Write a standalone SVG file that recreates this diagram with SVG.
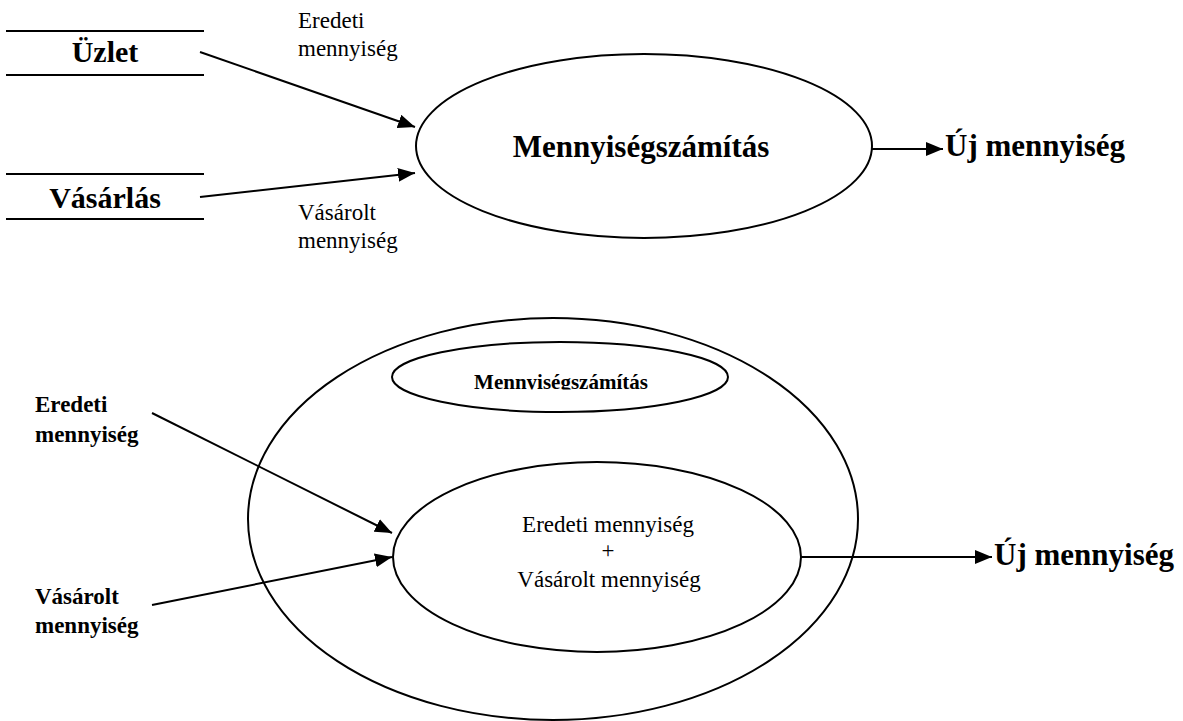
<svg xmlns="http://www.w3.org/2000/svg" width="1183" height="721" viewBox="0 0 1183 721">
<style>
.ln{stroke:#000;stroke-width:2;fill:none}
.arr{stroke:#000;stroke-width:2;fill:none;marker-end:url(#ah)}
.t{font-family:"Liberation Serif","Times New Roman",serif;fill:#000}
.b{font-weight:bold}
</style>
<defs>
<marker id="ah" markerUnits="userSpaceOnUse" markerWidth="17" markerHeight="14" viewBox="0 0 17 14" refX="17" refY="7" orient="auto">
<path d="M0,0 L17,7 L0,14 z" fill="#000"/>
</marker>
<clipPath id="clipTitle"><rect x="400" y="350" width="320" height="39.5"/></clipPath>
</defs>
<rect width="1183" height="721" fill="#fff"/>

<g id="uzlet">
<line class="ln" x1="6" y1="31" x2="204" y2="31"/>
<line class="ln" x1="6" y1="75" x2="204" y2="75"/>
<text class="t b" x="105" y="62" font-size="30" text-anchor="middle">Üzlet</text>
</g>
<g id="vasarlas">
<line class="ln" x1="6" y1="174" x2="204" y2="174"/>
<line class="ln" x1="6" y1="219" x2="204" y2="219"/>
<text class="t b" x="105" y="208" font-size="30" text-anchor="middle">Vásárlás</text>
</g>
<g id="process-top">
<ellipse class="ln" cx="644" cy="146" rx="228" ry="92"/>
<text class="t b" x="641" y="157" font-size="31" text-anchor="middle">Mennyiségszámítás</text>
</g>
<g id="output-top">
<text class="t b" x="945" y="156" font-size="31">Új mennyiség</text>
</g>

<g id="process-bottom">
<ellipse class="ln" cx="553" cy="519" rx="305" ry="201"/>
<ellipse class="ln" cx="560" cy="377" rx="168" ry="35"/>
<text class="t b" x="561" y="389" font-size="21" text-anchor="middle" clip-path="url(#clipTitle)">Mennyiségszámítás</text>
</g>
<g id="inner-calc">
<ellipse class="ln" cx="597" cy="557" rx="204" ry="95"/>
<text class="t" x="608" y="532" font-size="23" text-anchor="middle">Eredeti mennyiség</text>
<text class="t" x="608" y="558" font-size="23" text-anchor="middle">+</text>
<text class="t" x="609" y="587" font-size="23" text-anchor="middle">Vásárolt mennyiség</text>
</g>
<g id="in-eredeti">
<text class="t b" x="35" y="412" font-size="23">Eredeti</text>
<text class="t b" x="35" y="442" font-size="23">mennyiség</text>
</g>
<g id="in-vasarolt">
<text class="t b" x="35" y="604" font-size="23">Vásárolt</text>
<text class="t b" x="35" y="633" font-size="23">mennyiség</text>
</g>
<g id="output-bottom">
<text class="t b" x="994" y="565" font-size="31">Új mennyiség</text>
</g>

<g id="connectors">
<line class="arr" x1="200" y1="52" x2="415" y2="127"/>
<line class="arr" x1="200" y1="197" x2="415" y2="173"/>
<line class="arr" x1="872" y1="149" x2="943" y2="149"/>
<text class="t" x="298" y="28" font-size="23">Eredeti</text>
<text class="t" x="298" y="56" font-size="23">mennyiség</text>
<text class="t" x="298" y="220" font-size="23">Vásárolt</text>
<text class="t" x="298" y="248" font-size="23">mennyiség</text>
<line class="arr" x1="152" y1="413" x2="392" y2="533"/>
<line class="arr" x1="152" y1="605" x2="392" y2="557"/>
<line class="arr" x1="801" y1="557" x2="992" y2="557"/>
</g>
</svg>
